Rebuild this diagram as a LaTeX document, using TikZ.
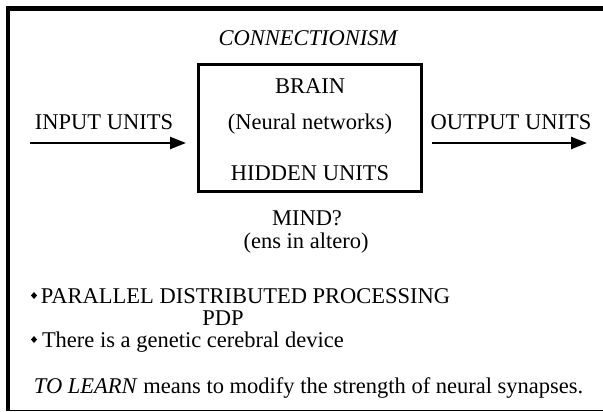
\documentclass[tikz,border=0pt]{standalone}
\usepackage{fontspec}
\setmainfont{Liberation Serif}
\usetikzlibrary{arrows.meta}
\tikzset{
  txt/.style={inner sep=0pt, outer sep=0pt, anchor=base, font=\fontsize{22.5}{22.5}\selectfont},
  ltxt/.style={txt, anchor=base west},
  flow/.style={line width=2.4pt, -{Triangle[length=16pt,width=12pt]}},
  brainbox/.style={draw, line width=3pt},
  dmd/.style={fill=black}
}
\begin{document}
\begin{tikzpicture}[x=1pt,y=-1pt]
\useasboundingbox (0,0) rectangle (603,412);
% outer frame: heavy top and left rules, thin bottom rule
\fill (6,6) rectangle (603,11);
\fill (6,6) rectangle (10,411);
\draw[line width=1.5pt] (6,410.25) -- (603,410.25);

\node[txt] (title) at (308,46) {\itshape CONNECTIONISM};

% central box
\draw[brainbox] (198.5,65) rectangle (421.5,191);
\node[txt] (brain) at (310,94) {BRAIN};
\node[txt] (neural) at (310,129) {(Neural networks)};
\node[txt] (hidden) at (310,180) {HIDDEN UNITS};

\node[txt] (input) at (104,129) {INPUT UNITS};
\node[txt] (output) at (511,129) {OUTPUT UNITS};
\coordinate (inA) at (30,143);
\coordinate (inB) at (186,143);
\coordinate (outA) at (432,143);
\coordinate (outB) at (587,143);
\draw[flow] (inA) -- (inB);
\draw[flow] (outA) -- (outB);

\node[txt] (mind) at (307,225) {MIND?};
\node[txt] (ens) at (306,248) {(ens in altero)};

% bulleted list
\fill[dmd] (34,292) -- (37,295.5) -- (34,299) -- (31,295.5) -- cycle;
\node[ltxt] (pdp1) at (41,303) {PARALLEL DISTRIBUTED PROCESSING};
\node[txt] (pdp2) at (223,325) {PDP};
\fill[dmd] (34,336) -- (37,339.5) -- (34,343) -- (31,339.5) -- cycle;
\node[ltxt] (gene) at (42,347) {There is a genetic cerebral device};

\node[ltxt] (learn) at (34,393) {\itshape TO LEARN\/\upshape{} means to modify the strength of neural synapses.};
\end{tikzpicture}
\end{document}
